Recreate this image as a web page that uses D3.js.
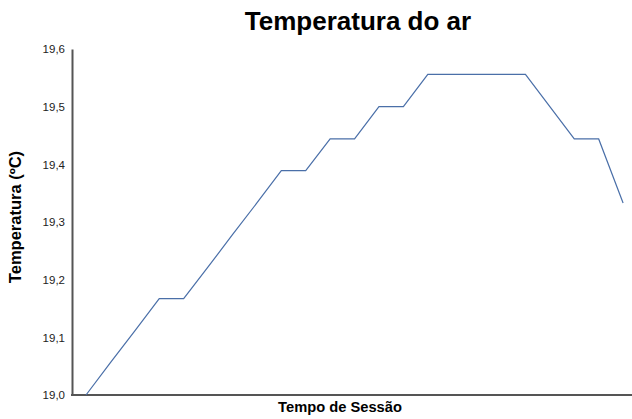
<!DOCTYPE html>
<html><head><meta charset="utf-8">
<script src="https://cdn.jsdelivr.net/npm/d3@7"></script>
<style>body{margin:0;background:#fff}svg{display:block}text{font-family:"Liberation Sans",Arial,sans-serif}</style>
</head><body><svg id="c" width="632" height="419"></svg>
<script>
const sessions = d3.range(1, 24).map(String);
const temperatures = [19.000,19.056,19.111,19.167,19.167,19.222,19.278,19.333,19.389,19.389,19.444,19.444,19.500,19.500,19.556,19.556,19.556,19.556,19.556,19.500,19.444,19.444,19.333];
const yTicks = [19.0,19.1,19.2,19.3,19.4,19.5,19.6];
const title = "Temperatura do ar";
const xTitle = "Tempo de Sessão";
const yTitle = "Temperatura (ºC)";

const svg = d3.select("#c");
const mLeft = 72, mRight = 632, mTop = 49, mBottom = 395;
const x = d3.scalePoint().domain(sessions).range([73.8, 635.3]).padding(0.5);
const y = d3.scaleLinear().domain([19.0, 19.6]).range([mBottom, mTop]);

const fmt = d => d.toFixed(1).replace(".", ",");
const ya = svg.append("g").attr("transform", `translate(${mLeft},0)`)
  .call(d3.axisLeft(y).tickValues(yTicks).tickSize(0).tickPadding(7).tickFormat(fmt));
ya.select(".domain").attr("stroke", "#555").attr("stroke-width", 2);
ya.selectAll("text").attr("font-size", 11.5).attr("fill", "#222").attr("font-family", "Liberation Sans, Arial, sans-serif");

svg.append("line").attr("x1", mLeft - 1).attr("x2", mRight).attr("y1", mBottom).attr("y2", mBottom)
  .attr("stroke", "#555").attr("stroke-width", 2);

const line = d3.line().x((d, i) => x(sessions[i])).y(d => y(d));
svg.append("path").datum(temperatures).attr("d", line)
  .attr("fill", "none").attr("stroke", "#4a6fa8").attr("stroke-width", 1.2);

svg.append("text").attr("x", 358).attr("y", 30).attr("text-anchor", "middle")
  .attr("font-size", 26).attr("font-weight", "bold").attr("fill", "#000").text(title);
svg.append("text").attr("x", 340).attr("y", 412).attr("text-anchor", "middle")
  .attr("font-size", 14.7).attr("font-weight", "bold").attr("fill", "#000").text(xTitle);
svg.append("text").attr("transform", "translate(21,217) rotate(-90)").attr("text-anchor", "middle")
  .attr("font-size", 16.5).attr("font-weight", "bold").attr("fill", "#000").text(yTitle);
</script></body></html>
